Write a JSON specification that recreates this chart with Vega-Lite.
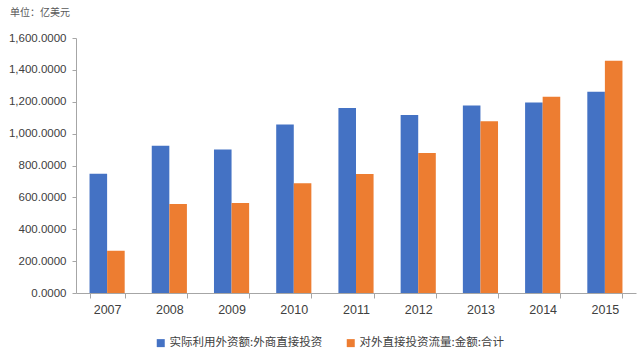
{
  "$schema": "https://vega.github.io/schema/vega-lite/v6.json",
  "width": 560,
  "height": 255,
  "autosize": "none",
  "padding": {"left": 76, "top": 38, "right": 4, "bottom": 63},
  "background": "white",
  "title": {
    "text": "单位：亿美元",
    "anchor": "start",
    "frame": "group",
    "dx": -66,
    "offset": 14,
    "fontSize": 10,
    "fontWeight": "normal",
    "color": "#595959",
    "font": "Noto Sans CJK SC"
  },
  "data": {
    "values": [
      {"year": "2007", "series": "实际利用外资额:外商直接投资", "value": 747.7},
      {"year": "2007", "series": "对外直接投资流量:金额:合计", "value": 265.1},
      {"year": "2008", "series": "实际利用外资额:外商直接投资", "value": 924.0},
      {"year": "2008", "series": "对外直接投资流量:金额:合计", "value": 559.1},
      {"year": "2009", "series": "实际利用外资额:外商直接投资", "value": 900.3},
      {"year": "2009", "series": "对外直接投资流量:金额:合计", "value": 565.3},
      {"year": "2010", "series": "实际利用外资额:外商直接投资", "value": 1057.4},
      {"year": "2010", "series": "对外直接投资流量:金额:合计", "value": 688.1},
      {"year": "2011", "series": "实际利用外资额:外商直接投资", "value": 1160.1},
      {"year": "2011", "series": "对外直接投资流量:金额:合计", "value": 746.5},
      {"year": "2012", "series": "实际利用外资额:外商直接投资", "value": 1117.2},
      {"year": "2012", "series": "对外直接投资流量:金额:合计", "value": 878.0},
      {"year": "2013", "series": "实际利用外资额:外商直接投资", "value": 1175.9},
      {"year": "2013", "series": "对外直接投资流量:金额:合计", "value": 1078.4},
      {"year": "2014", "series": "实际利用外资额:外商直接投资", "value": 1195.6},
      {"year": "2014", "series": "对外直接投资流量:金额:合计", "value": 1231.2},
      {"year": "2015", "series": "实际利用外资额:外商直接投资", "value": 1262.7},
      {"year": "2015", "series": "对外直接投资流量:金额:合计", "value": 1456.7}
    ]
  },
  "mark": {"type": "bar"},
  "encoding": {
    "x": {
      "field": "year",
      "type": "nominal",
      "scale": {"paddingInner": 0.435, "paddingOuter": 0.2175},
      "axis": {
        "title": null,
        "labelAngle": 0,
        "labelFontSize": 12.5,
        "labelColor": "#404040",
        "labelFont": "Liberation Sans",
        "labelPadding": 5,
        "tickBand": "extent",
        "tickSize": 5,
        "tickColor": "#a6a6a6",
        "domainColor": "#a6a6a6",
        "grid": false
      }
    },
    "xOffset": {
      "field": "series",
      "type": "nominal",
      "sort": ["实际利用外资额:外商直接投资", "对外直接投资流量:金额:合计"],
      "scale": {"paddingInner": 0}
    },
    "y": {
      "field": "value",
      "type": "quantitative",
      "scale": {"domain": [0, 1600], "nice": false},
      "axis": {
        "title": null,
        "values": [0, 200, 400, 600, 800, 1000, 1200, 1400, 1600],
        "format": ",.4f",
        "labelFontSize": 11.5,
        "labelColor": "#404040",
        "labelFont": "Liberation Sans",
        "labelPadding": 6,
        "tickSize": 4,
        "tickColor": "#a6a6a6",
        "domainColor": "#a6a6a6",
        "grid": false
      }
    },
    "color": {
      "field": "series",
      "type": "nominal",
      "sort": ["实际利用外资额:外商直接投资", "对外直接投资流量:金额:合计"],
      "scale": {"range": ["#4472C4", "#ED7D31"]},
      "legend": {
        "title": null,
        "orient": "none",
        "legendX": 79,
        "legendY": 299,
        "direction": "horizontal",
        "symbolType": "square",
        "symbolSize": 64,
        "symbolStrokeWidth": 0,
        "labelFontSize": 11.5,
        "labelFont": "Noto Sans CJK SC",
        "labelColor": "#404040",
        "labelOffset": 3,
        "columnPadding": 22,
        "labelLimit": 300
      }
    }
  },
  "config": {
    "view": {"stroke": null}
  }
}
